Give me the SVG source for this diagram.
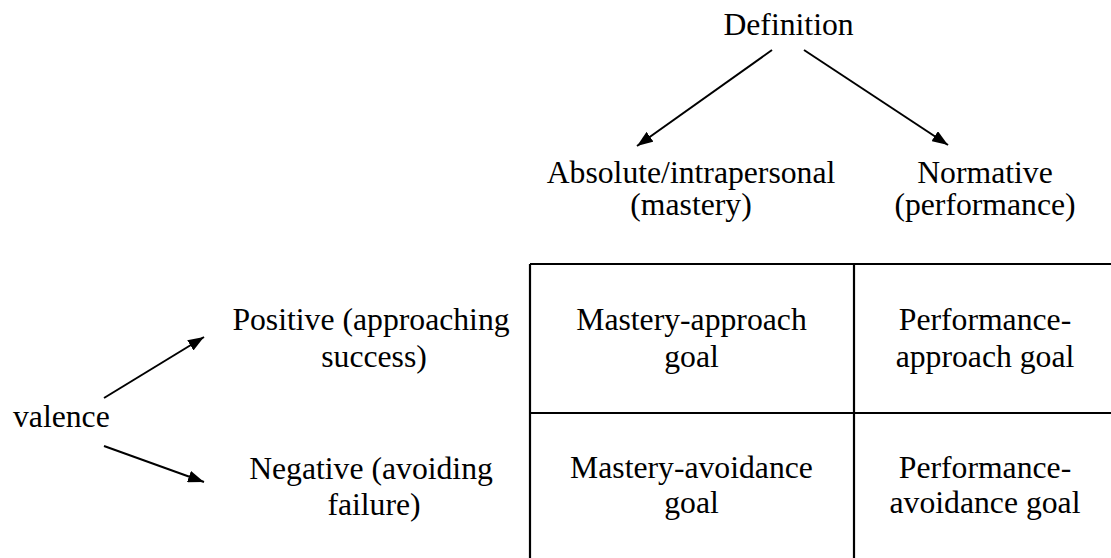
<svg xmlns="http://www.w3.org/2000/svg" width="1111" height="558" viewBox="0 0 1111 558" font-family="'Liberation Serif', 'Times New Roman', serif">
<style>
text{font-family:'Liberation Serif','Times New Roman',serif;font-size:31.7px;fill:#000;text-anchor:middle}
.l{text-anchor:start}
.c{stroke:#000;stroke-width:2;fill:none}
.t{stroke:#000;stroke-width:2.2;fill:none}
</style>
<defs>
<marker id="ah" viewBox="0 0 16 12" refX="16" refY="6" markerWidth="16" markerHeight="12" markerUnits="userSpaceOnUse" orient="auto">
<path d="M0,0 L16,6 L0,12 z" fill="#000"/>
</marker>
</defs>
<rect width="1111" height="558" fill="#fff"/>
<g id="connectors">
<line class="c" x1="772" y1="50" x2="637" y2="146" marker-end="url(#ah)"/>
<line class="c" x1="804" y1="50" x2="948" y2="145" marker-end="url(#ah)"/>
<line class="c" x1="104" y1="398" x2="204" y2="337" marker-end="url(#ah)"/>
<line class="c" x1="104" y1="446" x2="204" y2="482" marker-end="url(#ah)"/>
</g>
<g id="definition"><text x="788.5" y="35">Definition</text></g>
<g id="absolute"><text x="691" y="183">Absolute/intrapersonal</text><text x="691" y="215">(mastery)</text></g>
<g id="normative"><text x="985" y="183">Normative</text><text x="985" y="215">(performance)</text></g>
<g id="valence"><text class="l" x="13" y="427">valence</text></g>
<g id="positive"><text x="371" y="330">Positive (approaching</text><text x="374" y="367">success)</text></g>
<g id="negative"><text x="371" y="479">Negative (avoiding</text><text x="374" y="515">failure)</text></g>
<g id="table">
<path class="t" d="M530,264 H1111 M530,264 V558 M854,264 V558 M530,413 H1111"/>
</g>
<g id="mastery-approach"><text x="691.5" y="330">Mastery-approach</text><text x="691.5" y="367">goal</text></g>
<g id="performance-approach"><text x="985" y="330">Performance-</text><text x="985" y="367">approach goal</text></g>
<g id="mastery-avoidance"><text x="691.5" y="478">Mastery-avoidance</text><text x="691.5" y="513">goal</text></g>
<g id="performance-avoidance"><text x="985" y="478">Performance-</text><text x="985" y="513">avoidance goal</text></g>
</svg>
